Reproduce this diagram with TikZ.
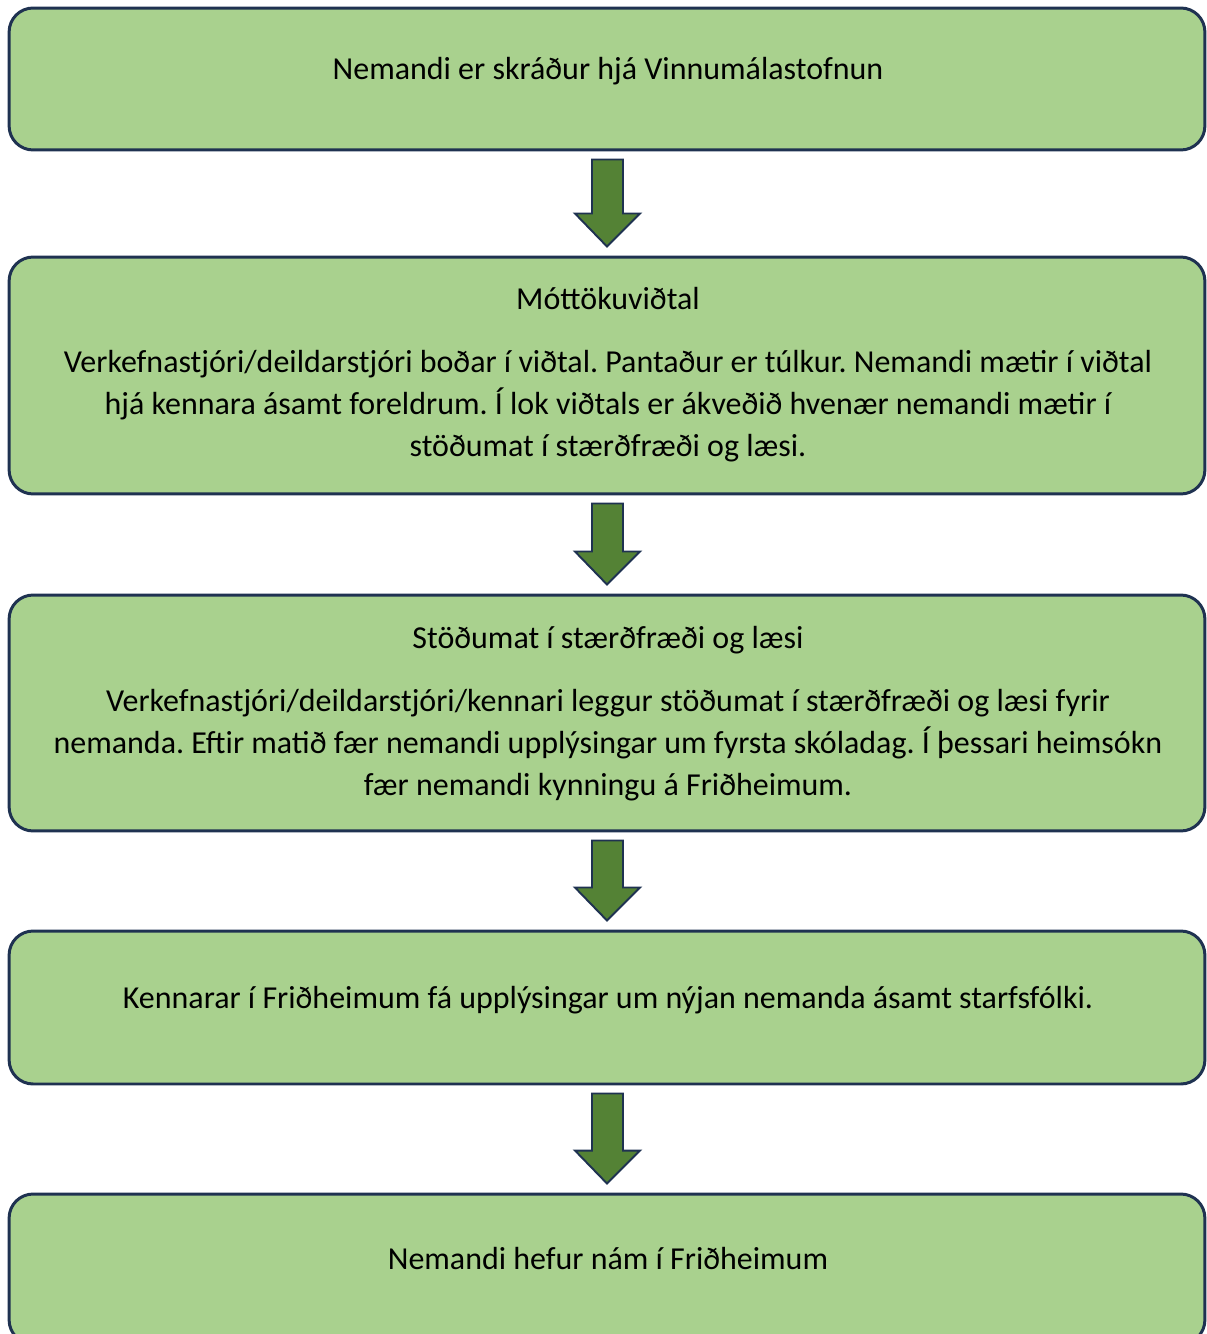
\documentclass[tikz,border=0pt]{standalone}
\usepackage{fontspec}
\setmainfont{Carlito}
\usetikzlibrary{calc}
\definecolor{boxgreen}{HTML}{A9D18E}
\definecolor{arrowgreen}{HTML}{548235}
\definecolor{navy}{HTML}{1F3251}
\frenchspacing
\tikzset{
  stepbox/.style={draw=navy,line width=1.7pt,fill=boxgreen,rounded corners=0.48cm,minimum width=23.92cm},
  steptext/.style={align=center,font=\fontsize{18.2}{23.9}\selectfont,inner sep=0pt},
  blockarrow/.style={draw=navy,line width=1.1pt,fill=arrowgreen,line join=miter}
}
\begin{document}
\begin{tikzpicture}[x=0.02cm,y=-0.02cm]

\useasboundingbox (0,0) rectangle (1206,1334);

\node[stepbox,minimum height=2.84cm] (b1) at (607,79) {};
\node[stepbox,minimum height=4.74cm] (b2) at (607,375.5) {};
\node[stepbox,minimum height=4.72cm] (b3) at (607,713) {};
\node[stepbox,minimum height=3.06cm] (b4) at (607,1007.5) {};
\node[stepbox,minimum height=3.00cm] (b5) at (607,1269) {};

\node[steptext] (t1) at (608,71) {Nemandi er skráður hjá Vinnumálastofnun};
\node[steptext] (t2) at (608,375) {Móttökuviðtal\\[0.42cm]
  Verkefnastjóri/deildarstjóri boðar í viðtal. Pantaður er túlkur. Nemandi mætir í viðtal\\
  hjá kennara ásamt foreldrum. Í lok viðtals er ákveðið hvenær nemandi mætir í\\
  stöðumat í stærðfræði og læsi.};
\node[steptext] (t3) at (608,714) {Stöðumat í stærðfræði og læsi\\[0.42cm]
  Verkefnastjóri/deildarstjóri/kennari leggur stöðumat í stærðfræði og læsi fyrir\\
  nemanda. Eftir matið fær nemandi upplýsingar um fyrsta skóladag. Í þessari heimsókn\\
  fær nemandi kynningu á Friðheimum.};
\node[steptext] (t4) at (608,1000) {Kennarar í Friðheimum fá upplýsingar um nýjan nemanda ásamt starfsfólki.};
\node[steptext] (t5) at (608,1259) {Nemandi hefur nám í Friðheimum};

\foreach \a/\b in {b1/b2,b2/b3,b3/b4,b4/b5}
  \draw[blockarrow] ($(\a.south)+(-15,8)$) -- ($(\a.south)+(16,8)$)
    -- ($(\b.north)+(16,-42)$) -- ($(\b.north)+(33,-42)$)
    -- ($(\b.north)+(0,-9)$) -- ($(\b.north)+(-32,-42)$)
    -- ($(\b.north)+(-15,-42)$) -- cycle;

\end{tikzpicture}
\end{document}
